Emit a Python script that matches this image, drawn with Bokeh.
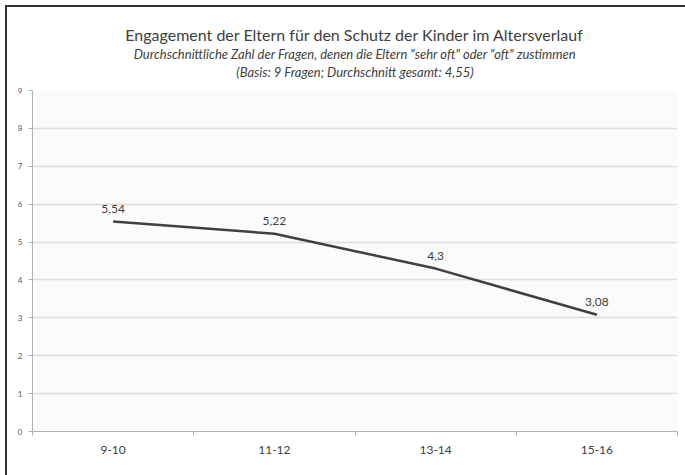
from bokeh.plotting import figure
from bokeh.models import Range1d, FixedTicker, Title, ColumnDataSource, LabelSet
from bokeh.core.properties import value
from bokeh.embed import file_html
from bokeh.resources import INLINE

categories = ["9-10", "11-12", "13-14", "15-16"]
values = [5.54, 5.22, 4.3, 3.08]
y_ticks = [0, 1, 2, 3, 4, 5, 6, 7, 8, 9]
title_text = "Engagement der Eltern für den Schutz der Kinder im Altersverlauf"
subtitle_text = 'Durchschnittliche Zahl der Fragen, denen die Eltern "sehr oft" oder "oft" zustimmen'
basis_text = "(Basis: 9 Fragen; Durchschnitt gesamt: 4,55)"

FONT = "Lato"
xs = [i + 0.5 for i in range(len(categories))]
labels = [str(v).replace(".", ",") for v in values]
src = ColumnDataSource(dict(x=xs, y=values, lab=labels))

p = figure(width=685, height=475, output_backend="svg", toolbar_location=None,
           x_range=Range1d(0, len(categories)), y_range=Range1d(0, 9),
           min_border_left=32, min_border_right=8, min_border_top=90, min_border_bottom=44)
p.styles = {"box-shadow": "inset 5px 5px 0 0 white, inset 7px 7px 0 0 #333333"}
p.background_fill_color = "#fbfbfb"
p.border_fill_color = "white"
p.border_fill_alpha = 0
p.outline_line_color = None

# spacer between plot area and the title block
p.add_layout(Title(text=" ", align="center", standoff=8, text_font_size="1px"), "above")
p.add_layout(Title(text=basis_text, align="center", standoff=0, text_font=FONT,
                   text_font_style="italic", text_font_size="13px", text_color="#404040"), "above")
p.add_layout(Title(text=subtitle_text, align="center", standoff=0, text_font=FONT,
                   text_font_style="italic", text_font_size="13px", text_color="#404040"), "above")
p.add_layout(Title(text=title_text, align="center", standoff=0, text_font=FONT,
                   text_font_style="normal", text_font_size="16px", text_color="#404040"), "above")

# x axis: labels at centres, ticks at category boundaries (minor ticks)
p.xaxis.ticker = FixedTicker(ticks=xs, minor_ticks=list(range(len(categories) + 1)))
p.xaxis.major_label_overrides = {x: c for x, c in zip(xs, categories)}
p.xaxis.major_tick_out = 0
p.xaxis.major_tick_in = 0
p.xaxis.minor_tick_out = 4
p.xaxis.minor_tick_in = 0
p.xaxis.minor_tick_line_color = "#b0b0b0"
p.xaxis.axis_line_color = "#b0b0b0"
p.xaxis.major_label_text_font = FONT
p.xaxis.major_label_text_font_size = "12px"
p.xaxis.major_label_text_color = "#404040"
p.xaxis.major_label_standoff = 10

p.yaxis.ticker = FixedTicker(ticks=y_ticks)
p.yaxis.minor_tick_line_color = None
p.yaxis.major_tick_out = 4
p.yaxis.major_tick_in = 0
p.yaxis.major_tick_line_color = "#b0b0b0"
p.yaxis.axis_line_color = "#b0b0b0"
p.yaxis.major_label_text_font = FONT
p.yaxis.major_label_text_font_size = "8px"
p.yaxis.major_label_text_color = "#595959"
p.yaxis.major_label_standoff = 6

p.xgrid.grid_line_color = None
p.ygrid.ticker = FixedTicker(ticks=y_ticks)
p.ygrid.grid_line_color = "#dcdcdc"
p.ygrid.grid_line_width = 1.5

p.line("x", "y", source=src, line_color="#404040", line_width=2.5)
p.add_layout(LabelSet(x="x", y="y", text="lab", source=src, x_offset=0, y_offset=13,
                      text_align="center", text_baseline="middle", text_font=value(FONT),
                      text_font_size="12px", text_color="#404040"))

open("out.html", "w").write(file_html(p, INLINE))
